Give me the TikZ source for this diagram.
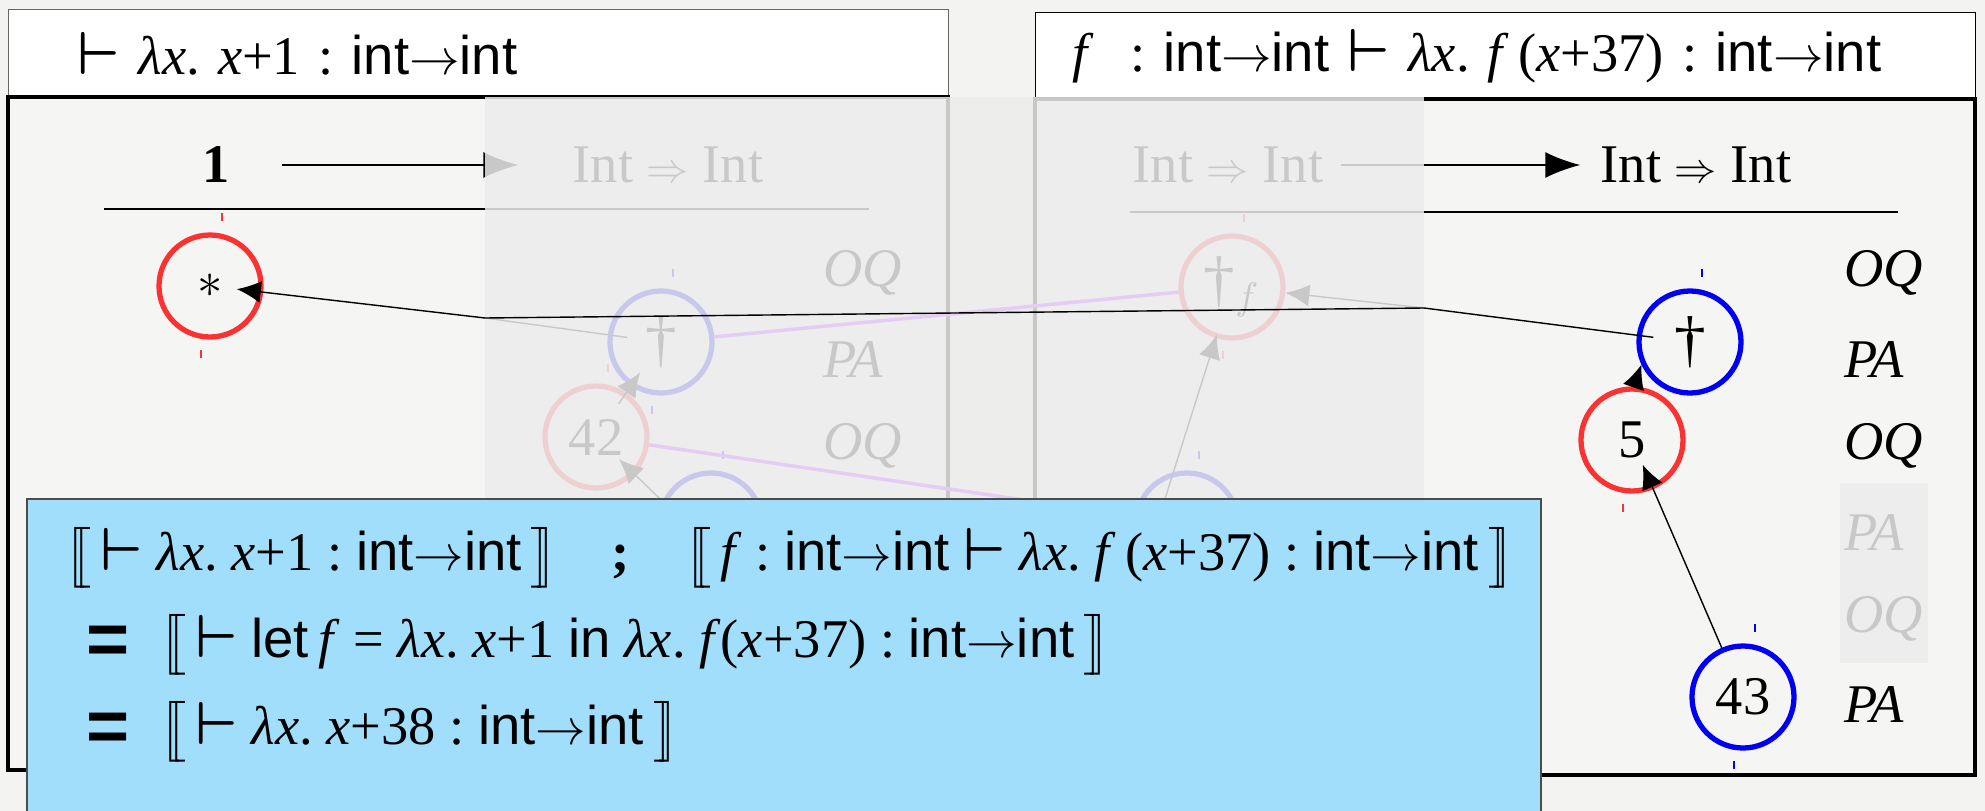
\documentclass[tikz,border=0pt]{standalone}
\usepackage{amsmath}
\usepackage{fontspec}
\setmainfont{Liberation Serif}
\setsansfont{Liberation Sans}
\usetikzlibrary{arrows.meta, positioning}
\definecolor{mred}{RGB}{250,50,50}
\definecolor{mblue}{RGB}{0,0,245}
\definecolor{bgc}{RGB}{243,243,242}
\definecolor{panelc}{RGB}{245,245,244}
\definecolor{veil}{RGB}{236,236,236}
\definecolor{lilac}{RGB}{228,204,245}
\definecolor{boxc}{RGB}{160,222,252}
\frenchspacing
\newcommand{\ty}{\textsf{int}}
\newcommand{\arr}{\ty$\to$\ty}
\newcommand{\vd}{{\fontsize{17}{17}\selectfont$\boldsymbol{\vdash}$}}
\newcommand{\lam}{\textit{λx}.}
\newcommand{\vx}{\textit{x}}
\newcommand{\vf}{\textit{f}}
\newcommand{\dgr}{{\fontsize{18}{18}\selectfont\textdagger}}
\newcommand{\imp}{{\fontsize{12}{12}\selectfont$\Rightarrow$}}
\newcommand{\sem}[1]{$\bigl[\mkern-5.5mu\bigl[$\,#1\,$\bigr]\mkern-5.5mu\bigr]$}
\newcommand{\eqs}{\raisebox{-0.07cm}{\fontsize{21}{21}\selectfont\sffamily\bfseries =}\hspace{0.3cm}}

\begin{document}
\begin{tikzpicture}[x=1cm, y=-1cm,
  every node/.style={font=\fontsize{15.5}{18}\selectfont},
  hdr/.style={fill=white, anchor=north west, minimum height=0.88cm, align=left},
  panel/.style={fill=panelc, line width=0.9pt},
  mv/.style={circle, draw, line width=1.5pt, minimum size=1.02cm, inner sep=0pt},
  lbl/.style={anchor=west, font=\fontsize{15.5}{18}\selectfont\itshape},
  eqn/.style={anchor=west, inner ysep=0pt},
  toparr/.style={-{Latex[length=3.5mm,width=2.6mm]}, semithick},
  ptr/.style={-{Latex[length=2.4mm,width=2.2mm]}, thin},
  pp/.style={lilac, line width=1pt},
  rule/.style={semithick},
  tick/.style={line width=0.4pt},
  veilbox/.style={fill=veil, fill opacity=0.85}
]
\useasboundingbox (0,0) rectangle (19.85,8.11);
\fill[bgc] (0,0) rectangle (19.85,8.11);

% judgements on top
\node[hdr, draw=black!60, inner xsep=0.69cm, text width=8.02cm] (hdrL) at (0.08,0.09)
  {\vd{} \lam{} \vx+1 : \arr};
\node[hdr, draw=black, inner xsep=0.37cm, text width=8.66cm] (hdrR) at (10.35,0.12)
  {\vf{}~~: \arr{} \vd{} \lam{} \vf\,(\vx+37) : \arr};

\draw[panel] (0.08,0.97) rectangle (9.48,7.70);
\draw[panel] (10.35,0.99) rectangle (19.75,7.75);

% arenas
\node (one) at (2.16,1.65) {\textbf{1}};
\node (intL) at (6.68,1.65) {Int \imp{} Int};
\node (intRa) at (12.28,1.65) {Int \imp{} Int};
\node (intRb) at (16.96,1.65) {Int \imp{} Int};
\draw[toparr, shorten <=0.4cm, shorten >=0.42cm] (one) -- (intL);
\draw[toparr, shorten <=0.05cm, shorten >=0.08cm] (intRa) -- (intRb);
\draw[rule] (1.04,2.09) -- (8.69,2.09);
\draw[rule] (11.30,2.12) -- (18.98,2.12);

% moves
\node[mv, draw=mred]  (star) at (2.10,2.86) {$*$};
\node[mv, draw=mblue] (dagL) at (6.61,3.42) {\dgr};
\node[mv, draw=mred]  (n42)  at (5.96,4.37) {42};
\node[mv, draw=mblue] (bL3)  at (7.11,5.24) {};
\node[mv, draw=mred]  (tdag) at (12.32,2.87) {\dgr$_f$};
\node[mv, draw=mblue] (bR3)  at (11.87,5.24) {};
\node[mv, draw=mblue] (dagR) at (16.90,3.42) {\dgr};
\node[mv, draw=mred]  (n5)   at (16.32,4.40) {5};
\node[mv, draw=mblue] (n43)  at (17.43,6.97) {43};

\foreach \n/\c in {star/mred, dagL/mblue, n42/mred, bL3/mblue, tdag/mred, bR3/mblue, dagR/mblue, n43/mblue}
  \draw[tick, \c] ([shift={(0.12,-0.73)}]\n.center) -- ++(0,0.08);
\foreach \n/\c in {star/mred, dagL/mblue, tdag/mred, n5/mred, n43/mblue}
  \draw[tick, \c] ([shift={(-0.09,0.64)}]\n.center) -- ++(0,0.08);

\foreach \t [count=\i] in {OQ,PA,OQ}
  \node[lbl] (mL\i) at (8.11,{1.866+0.864*\i}) {\t};
\foreach \t [count=\i] in {OQ,PA,OQ,PA,OQ,PA}
  \node[lbl] (mR\i) at (18.32,{1.866+0.864*\i}) {\t};

\coordinate (bL) at (4.85,3.18);
\coordinate (bR) at (14.24,3.08);

% pointers hidden by the interaction
\draw[ptr, shorten <=0.40cm, shorten >=0.37cm] (n42.center) -- (dagL.center);
\draw[ptr, shorten <=0.2cm, shorten >=0.32cm] ([xshift=-0.25cm]bL3.center) -- (n42.center);
\draw[ptr, shorten <=0.2cm, shorten >=0.5cm] ([xshift=-0.3cm]bR3.center) -- (tdag.center);
\draw[thin, shorten >=0.34cm] (bL) -- (dagL.center);
\draw[ptr] (bR) -- (tdag);

\fill[veilbox] (4.85,0.97) rectangle (14.24,7.75);
\fill[veilbox] (18.40,4.83) rectangle (19.28,6.63);

\draw[pp] (dagL) -- (tdag);
\draw[pp] (n42) -- (bR3);

% visible pointers
\draw[ptr, shorten <=0.37cm, shorten >=0.27cm] (dagR.center) -- (bR) -- (bL) -- (star.center);
\draw[ptr, shorten >=0.27cm] (n43) -- (n5.center);
\draw[ptr] (n5.88) -- (dagR.205);

% composition
\fill[boxc] (0.27,4.99) rectangle (15.41,8.11);
\draw[black!70, semithick] (0.27,8.11) |- (15.41,4.99) -- (15.41,8.11);
\node[eqn] (eq1) at (0.52,5.58)
  {\sem{\vd{} \lam{} \vx+1 : \arr}\quad{\bfseries ;}\quad\sem{\vf{} : \arr{} \vd{} \lam{} \vf\,(\vx+37) : \arr}};
\node[eqn] (eq2) at (0.74,6.45)
  {\eqs\sem{\vd{} \textsf{let}\,\vf{} = \lam{} \vx+1 \textsf{in} \lam{} \vf(\vx+37) : \arr}};
\node[eqn] (eq3) at (0.74,7.32)
  {\eqs\sem{\vd{} \lam{} \vx+38 : \arr}};
\end{tikzpicture}
\end{document}
